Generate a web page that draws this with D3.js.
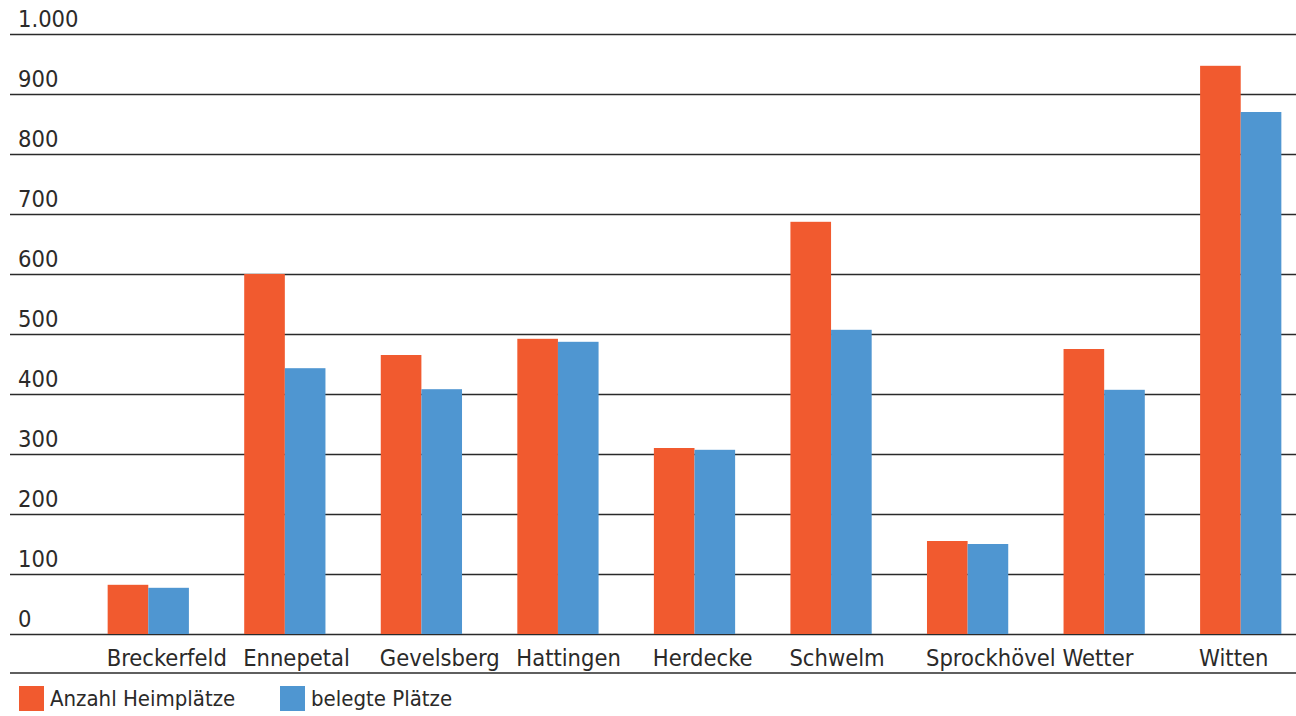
<!DOCTYPE html>
<html><head><meta charset="utf-8">
<script src="https://cdn.jsdelivr.net/npm/d3@7"></script>
<style>
body{margin:0;background:#fff;}
text{font-family:"DejaVu Sans Condensed",sans-serif;fill:#2b2a29;}
</style></head><body>
<svg id="c" width="1296" height="716"></svg>
<script>
const categories = ["Breckerfeld","Ennepetal","Gevelsberg","Hattingen","Herdecke","Schwelm","Sprockhövel","Wetter","Witten"];
const heimplaetze = [82,600,465,492,310,687,155,475,947];
const belegt = [77,443,408,487,307,507,150,407,870];
const yTicks = [0,100,200,300,400,500,600,700,800,900,1000];
const tickLabels = ["0","100","200","300","400","500","600","700","800","900","1.000"];
const seriesNames = ["Anzahl Heimplätze","belegte Plätze"];
const colors = ["#f15a2f","#4f96d1"];

const svg = d3.select("#c");
const y = d3.scaleLinear().domain([0,1000]).range([634,34]);
const pi = 0.405;
const x = d3.scaleBand().domain(categories).range([80,1309]).paddingInner(pi).paddingOuter(pi/2);
const xs = d3.scaleBand().domain([0,1]).range([0,x.bandwidth()]);

// gridlines
const grid = svg.append("g").attr("class","grid")
  .attr("transform","translate(10,0)")
  .call(d3.axisLeft(y).tickValues(yTicks).tickSize(-(1296-10)).tickFormat(""));
grid.select(".domain").remove();
grid.selectAll("line").attr("stroke","#2a2a2a").attr("stroke-width",1.6);

// tick labels
svg.append("g").selectAll("text").data(yTicks).join("text")
  .attr("x",18).attr("y",d=>y(d)-7)
  .attr("font-size",23.5)
  .text((d,i)=>tickLabels[i]);

// bars
const g = svg.append("g");
const data = categories.map((c,i)=>({c, v:[heimplaetze[i],belegt[i]]}));
g.selectAll("g").data(data).join("g")
  .attr("transform",d=>`translate(${x(d.c)},0)`)
  .selectAll("rect").data(d=>d.v.map((v,k)=>({v,k}))).join("rect")
  .attr("x",d=>xs(d.k)).attr("width",xs.bandwidth())
  .attr("y",d=>y(d.v)).attr("height",d=>y(0)-y(d.v))
  .attr("fill",d=>colors[d.k]);

// x axis labels (left-aligned at the start of each group)
const xa = svg.append("g").attr("transform","translate(0,634)")
  .call(d3.axisBottom(x).tickSize(0).tickPadding(0).offset(0));
xa.select(".domain").remove();
xa.selectAll(".tick").attr("transform",d=>`translate(${x(d)-1},0)`);
xa.selectAll("text").attr("font-size",23.5).attr("dy",0).attr("y",32)
  .attr("text-anchor","start")
  .style("font-family",'"DejaVu Sans Condensed",sans-serif').attr("fill","#2b2a29");

// bottom line
svg.append("line").attr("x1",10).attr("x2",1296).attr("y1",673).attr("y2",673)
  .attr("stroke","#2a2a2a").attr("stroke-width",1.6);

// legend
const legX = [19,280];
const leg = svg.append("g").selectAll("g").data(seriesNames).join("g")
  .attr("transform",(d,i)=>`translate(${legX[i]},686)`);
leg.append("rect").attr("width",25).attr("height",25).attr("fill",(d,i)=>colors[i]);
leg.append("text").attr("x",31).attr("y",20).attr("font-size",22).text(d=>d);
</script>
</body></html>
